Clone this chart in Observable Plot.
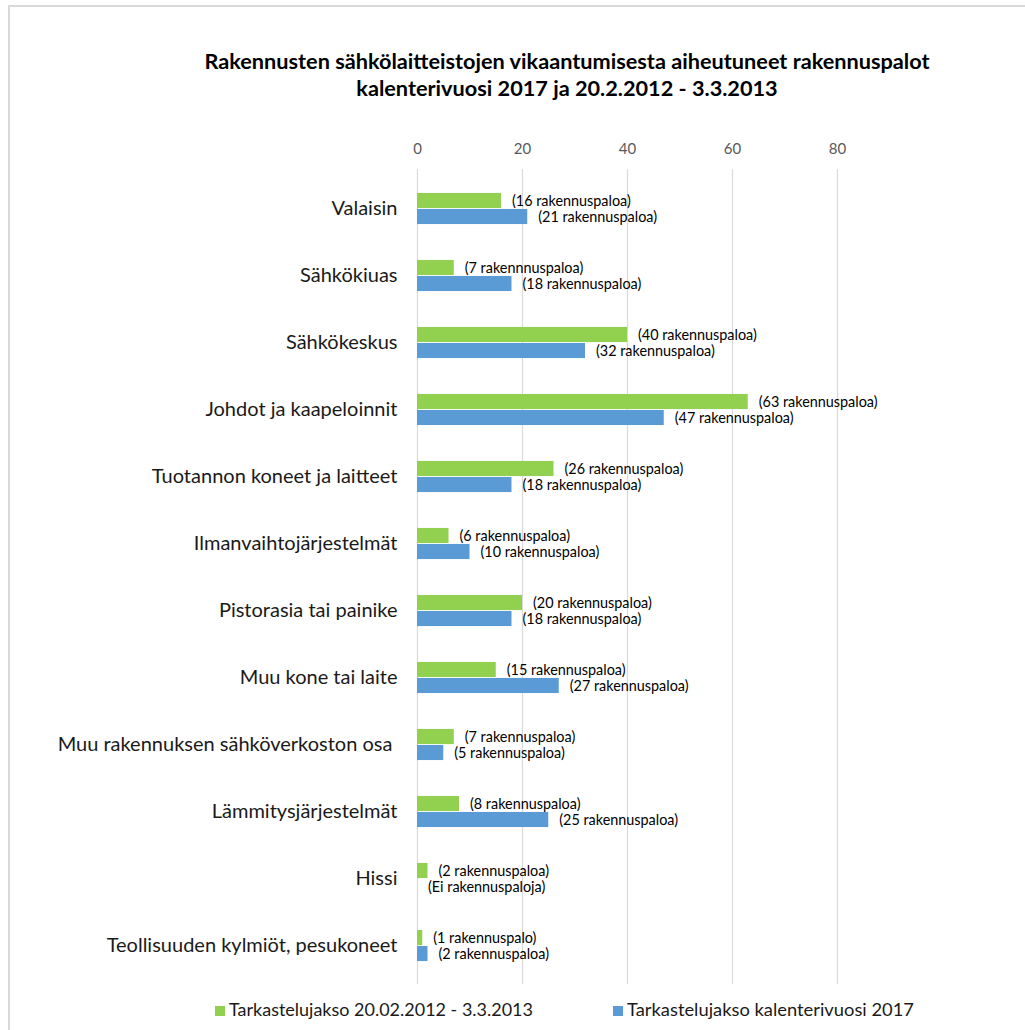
<!DOCTYPE html>
<html><head><meta charset="utf-8">
<script src="https://cdn.jsdelivr.net/npm/d3@7"></script>
<script src="https://cdn.jsdelivr.net/npm/@observablehq/plot@0.6"></script>
<style>
body{margin:0;background:#fff;}
#wrap{position:relative;width:1025px;height:1030px;overflow:hidden;font-family:Lato,"Open Sans",sans-serif;background:#fff;}
#frame{position:absolute;left:8px;top:5px;width:1100px;height:1100px;border:2px solid #d9d9d9;}
#title{position:absolute;left:0;width:1134px;top:48px;text-align:center;font-weight:bold;font-size:21.7px;line-height:26.5px;color:#000;}
#chart{position:absolute;left:0;top:119px;line-height:0;}
#chart svg{display:block;}
#legend{position:absolute;left:0;top:996px;}
#legend svg{display:block;}
</style></head>
<body>
<div id="wrap">
<div id="frame"></div>
<div id="title">Rakennusten sähkölaitteistojen vikaantumisesta aiheutuneet rakennuspalot<br>kalenterivuosi 2017 ja 20.2.2012 - 3.3.2013</div>
<div id="chart"></div>
<div id="legend"></div>
</div>
<script>
const categories = ["Valaisin","Sähkökiuas","Sähkökeskus","Johdot ja kaapeloinnit","Tuotannon koneet ja laitteet","Ilmanvaihtojärjestelmät","Pistorasia tai painike","Muu kone tai laite","Muu rakennuksen sähköverkoston osa\u00a0","Lämmitysjärjestelmät","Hissi","Teollisuuden kylmiöt, pesukoneet"];
const seriesNames = ["Tarkastelujakso 20.02.2012 - 3.3.2013","Tarkastelujakso kalenterivuosi 2017"];
const values2012 = [16,7,40,63,26,6,20,15,7,8,2,1];
const values2017 = [21,18,32,47,18,10,18,27,5,25,0,2];
const labels2012 = ["(16 rakennuspaloa)","(7 rakennnuspaloa)","(40 rakennuspaloa)","(63 rakennuspaloa)","(26 rakennuspaloa)","(6 rakennuspaloa)","(20 rakennuspaloa)","(15 rakennuspaloa)","(7 rakennuspaloa)","(8 rakennuspaloa)","(2 rakennuspaloa)","(1 rakennuspalo)"];
const labels2017 = ["(21 rakennuspaloa)","(18 rakennuspaloa)","(32 rakennuspaloa)","(47 rakennuspaloa)","(18 rakennuspaloa)","(10 rakennuspaloa)","(18 rakennuspaloa)","(27 rakennuspaloa)","(5 rakennuspaloa)","(25 rakennuspaloa)","(Ei rakennuspaloja)","(2 rakennuspaloa)"];
const xTicks = [0,20,40,60,80];
const colors = ["#92d050","#5b9bd5"];

const data = categories.map((c,i)=>({category:c, v2012:values2012[i], v2017:values2017[i], l2012:labels2012[i], l2017:labels2017[i]}));

const H = 865, MT = 50, MB = 0;
const band = (H - MT - MB) / categories.length;
const barH = 16;

const chart = Plot.plot({
  width:1025, height:H,
  marginLeft:417, marginRight:188, marginTop:MT, marginBottom:MB,
  style:{fontFamily:"Lato, 'Open Sans', sans-serif", background:"transparent"},
  x:{domain:[0,80], axis:null},
  y:{domain:categories, padding:0, axis:null},
  marks:[
    Plot.gridX(xTicks, {stroke:"#d9d9d9", strokeOpacity:1, strokeWidth:1.2}),
    Plot.axisX(xTicks, {anchor:"top", tickSize:0, tickPadding:16, fontSize:15, fill:"#595959", label:null}),
    Plot.axisY({tickSize:0, tickPadding:20, fontSize:20, fill:"#1a1a1a", label:null}),
    Plot.barX(data, {y:"category", x:"v2012", fill:colors[0], insetTop:band/2 - barH, insetBottom:band/2}),
    Plot.barX(data, {y:"category", x:"v2017", fill:colors[1], insetTop:band/2, insetBottom:band/2 - barH}),
    Plot.text(data, {y:"category", x:"v2012", text:"l2012", dx:10.5, dy:-7.5, textAnchor:"start", fontSize:14.4, fill:"#000"}),
    Plot.text(data, {y:"category", x:"v2017", text:"l2017", dx:10.5, dy:8.5, textAnchor:"start", fontSize:14.4, fill:"#000"})
  ]
});
document.getElementById("chart").appendChild(chart);

// legend
const lsvg = d3.select("#legend").append("svg").attr("width",1025).attr("height",34);
const legendItems = [{x:215, w:304}, {x:613, w:287}];
seriesNames.forEach((name,i)=>{
  const g = lsvg.append("g").attr("transform",`translate(${legendItems[i].x},0)`);
  g.append("rect").attr("x",0).attr("y",10).attr("width",10).attr("height",10).attr("fill",colors[i]);
  g.append("text").attr("x",14).attr("y",16).attr("dominant-baseline","middle")
    .attr("font-family","Lato, 'Open Sans', sans-serif").attr("font-size",17).attr("fill","#1a1a1a")
    .attr("textLength",legendItems[i].w).attr("lengthAdjust","spacingAndGlyphs").text(name);
});
</script>
</body></html>
